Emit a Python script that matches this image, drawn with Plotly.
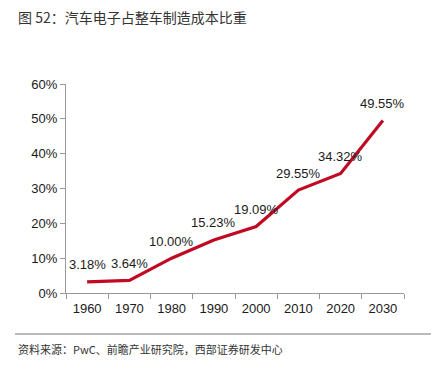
import plotly.graph_objects as go

years = ["1960", "1970", "1980", "1990", "2000", "2010", "2020", "2030"]
share = [3.18, 3.64, 10.00, 15.23, 19.09, 29.55, 34.32, 49.55]
y_ticks = [0, 10, 20, 30, 40, 50, 60]
y_tick_text = ["0%", "10%", "20%", "30%", "40%", "50%", "60%"]

title_text = "图 52：汽车电子占整车制造成本比重"
source_text = "资料来源：PwC、前瞻产业研究院，西部证券研发中心"

# page body has an 8px margin, so the figure is 440x362 drawn at (8, 8)
W, H = 440, 362
L, R, T, B = 58, 44, 76, 77
pw, ph = W - L - R, H - T - B


def px(x):
    return (x - 8 - L) / pw


def py(y):
    return (H - B - (y - 8)) / ph


fig = go.Figure()
fig.add_trace(go.Scatter(
    x=years, y=share, mode="lines",
    line=dict(color="#C00A23", width=3.2),
    hoverinfo="skip", showlegend=False,
))

for i, v in enumerate(share):
    fig.add_annotation(x=i, y=v, text=f"{v:.2f}%", showarrow=False,
                       yshift=17, font=dict(size=13, color="#1a1a1a",
                                            family="Liberation Sans, Arial"))

fig.add_annotation(xref="paper", yref="paper", x=px(16), y=py(17),
                   xanchor="left", yanchor="middle", showarrow=False,
                   text=title_text,
                   font=dict(size=14, color="#333333",
                             family="Noto Sans CJK SC, Liberation Sans"))
fig.add_annotation(xref="paper", yref="paper", x=px(16), y=py(349),
                   xanchor="left", yanchor="middle", showarrow=False,
                   text=source_text,
                   font=dict(size=11, color="#333333",
                             family="Noto Sans CJK SC, Liberation Sans"))
fig.add_shape(type="line", xref="paper", yref="paper", x0=px(15), x1=px(431),
              y0=py(334), y1=py(334), line=dict(color="#777777", width=1.2))

fig.update_layout(
    width=W, height=H,
    margin=dict(l=L, r=R, t=T, b=B, autoexpand=False),
    paper_bgcolor="white", plot_bgcolor="white",
    font=dict(family="Liberation Sans, Arial", size=13, color="#1a1a1a"),
    xaxis=dict(type="category", tickson="boundaries", ticks="outside",
               ticklen=5, tickcolor="#999999", showline=True,
               linecolor="#999999", linewidth=1, showgrid=False,
               tickfont=dict(size=13), tickangle=0, ticklabelstandoff=3,
               range=[-0.5, len(years) - 0.5]),
    yaxis=dict(range=[0, 60], tickvals=y_ticks, ticktext=y_tick_text,
               ticks="outside", ticklen=5, tickcolor="#999999",
               showline=True, linecolor="#999999", linewidth=1,
               showgrid=False, zeroline=False, tickfont=dict(size=13)),
)

fig.write_html("out.html")
